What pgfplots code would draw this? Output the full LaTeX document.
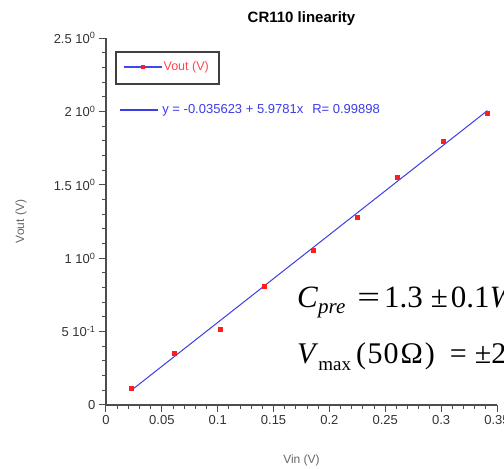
\documentclass[border=0pt]{standalone}
\usepackage{pgfplots}
\pgfplotsset{compat=1.18}
\usepackage{fontspec}
\setmainfont{Liberation Sans}
\newfontfamily\tnr{Liberation Serif}
\definecolor{axisgray}{HTML}{4D4D4D}
\definecolor{ticklab}{HTML}{333333}
\definecolor{fitblue}{RGB}{60,60,230}
\definecolor{legblue}{RGB}{70,70,240}
\definecolor{datared}{RGB}{255,30,30}
\definecolor{legred}{RGB}{255,70,80}
\definecolor{labgray}{HTML}{666666}
\definecolor{legbox}{HTML}{404040}

\pgfplotstableread{
x y
0.0224 0.116
0.0611 0.352
0.1021 0.516
0.1414 0.811
0.1853 1.054
0.2250 1.279
0.2608 1.555
0.3014 1.796
0.3414 1.989
}\datatable

\pgfplotstableread{
x y
0.0224 0.0983
0.3414 2.0053
}\fittable

\begin{document}
\begin{tikzpicture}
\useasboundingbox (-106pt,-64pt) rectangle (398pt,405pt);
\pgfplotsset{common/.style={at={(0pt,0pt)}, anchor=south west, scale only axis,
  width=391pt, height=367pt, xmin=0, xmax=0.35, ymin=0, ymax=2.5, clip=false}}
\begin{axis}[common,
  axis lines=left,
  axis line style={-, draw=axisgray, line width=1.3pt},
  xtick={0,0.05,0.1,0.15,0.2,0.25,0.3,0.35},
  xticklabels={0,0.05,0.1,0.15,0.2,0.25,0.3,0.35},
  ytick={0,0.5,1,1.5,2,2.5},
  yticklabels={0,5 10\textsuperscript{-1},1 10\textsuperscript{0},1.5 10\textsuperscript{0},2 10\textsuperscript{0},2.5 10\textsuperscript{0}},
  minor x tick num=4, minor y tick num=4,
  tick align=outside,
  major tick length=7pt, minor tick length=4pt,
  every tick/.style={draw=axisgray, line width=1pt},
  ticklabel style={font=\fontsize{13}{13}\selectfont, text=ticklab},
  title={CR110 linearity},
  title style={at={(axis description cs:0.5,1.0572)}, anchor=center, yshift=-8pt, font=\bfseries\fontsize{15}{15}\selectfont},
  xlabel={Vin (V)},
  xlabel style={at={(axis description cs:0.5,-0.1499)}, anchor=center, font=\fontsize{12}{12}\selectfont, text=labgray},
  ylabel={Vout (V)},
  ylabel style={at={(axis description cs:-0.2174,0.5)}, anchor=center, font=\fontsize{12}{12}\selectfont, text=labgray},
  legend style={at={(axis description cs:0.0332,0.8038)}, anchor=west, draw=none, fill=none,
    inner sep=0pt, nodes={inner sep=1pt}, font=\fontsize{13}{13}\selectfont,
    /tikz/every even column/.append style={column sep=2pt}},
  legend image code/.code={\draw[draw=fitblue, line width=1.2pt] (0pt,0pt) -- (38pt,0pt);},
]
\addplot[fitblue, line width=1pt] table[x=x,y=y] {\fittable};
\addlegendentry{\hspace{3pt}\textcolor{fitblue}{y = -0.035623 + 5.9781x\hspace{9pt}R= 0.99898}}
\end{axis}
\begin{axis}[common, hide axis,
  legend style={at={(axis description cs:0.0256,0.9619)}, anchor=north west, draw=none, fill=none,
    inner xsep=7pt, inner ysep=8.5pt, nodes={inner sep=1pt}, font=\fontsize{12.5}{13}\selectfont},
  legend image code/.code={%
    \draw[draw=legblue, line width=1.4pt] (0pt,0pt) -- (38pt,0pt);%
    \draw[draw=datared, fill=datared, mark=square*, mark size=1.6pt, only marks] plot coordinates {(19pt,0pt)};},
]
\addplot[only marks, mark=square*, mark size=2pt, draw=datared, fill=datared] table[x=x,y=y] {\datatable};
\addlegendentry{\textcolor{legred}{Vout (V)}}
\end{axis}
\draw[legbox, line width=1.2pt] (10pt,321pt) rectangle (113pt,353pt);
\node[anchor=base west, inner sep=0pt, font=\tnr\fontsize{31}{31}\selectfont] at (191pt,97pt)
  {\textit{C}\raisebox{-6pt}{\fontsize{21}{21}\selectfont\textit{pre}}\hspace{12pt}\scalebox{1.3}[1]{=}\hspace{4pt}1.3\hspace{8pt}±\hspace{3pt}0.1\textit{W}/pC};
\node[anchor=base west, inner sep=0pt, font=\tnr\fontsize{30}{30}\selectfont] at (191pt,41pt)
  {\textit{V}\raisebox{-6pt}{\fontsize{19}{19}\selectfont max}\hspace{5pt}(\hspace{1.5pt}5\hspace{1pt}0\hspace{2pt}Ω\hspace{2pt})\hspace{15pt}=\hspace{8pt}±2 V};
\end{tikzpicture}
\end{document}
